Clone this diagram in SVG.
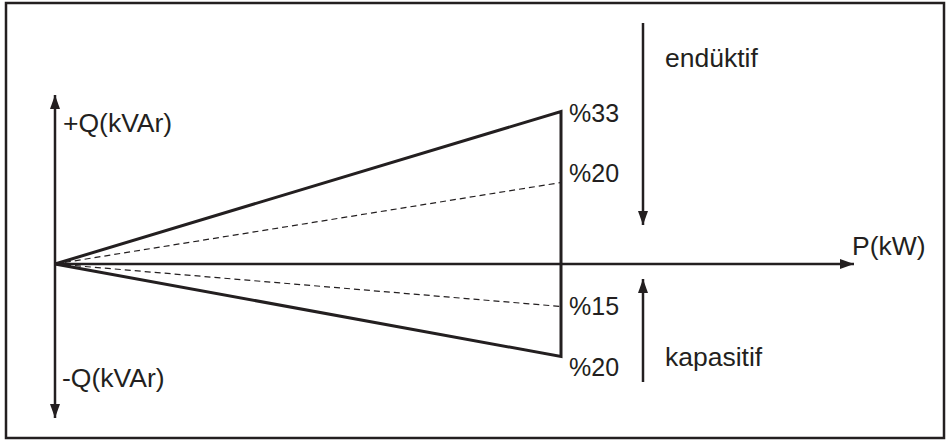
<svg xmlns="http://www.w3.org/2000/svg" width="949" height="441" viewBox="0 0 949 441">
<style>
  .t { font-family: "Liberation Sans", Arial, sans-serif; font-size: 25px; fill: #231f20; }
  .l { font-size: 26.5px; }
  .ax { stroke: #231f20; stroke-width: 2.5; fill: none; }
  .solid { stroke: #231f20; stroke-width: 3; fill: none; stroke-linejoin: miter; }
  .dash { stroke: #231f20; stroke-width: 1.2; fill: none; stroke-dasharray: 6 4; }
</style>
<defs>
  <marker id="ah" viewBox="0 0 14 10" refX="14" refY="5" markerWidth="14" markerHeight="10" markerUnits="userSpaceOnUse" orient="auto">
    <path d="M0,0 L14,5 L0,10 Z" fill="#231f20"/>
  </marker>
</defs>
<rect x="6" y="3" width="938" height="435" fill="#ffffff" stroke="#231f20" stroke-width="2.5"/>
<g id="connectors">
  <line class="ax" x1="55" y1="264" x2="55" y2="95" marker-end="url(#ah)"/>
  <line class="ax" x1="55" y1="264" x2="55" y2="418" marker-end="url(#ah)"/>
  <line class="ax" x1="55" y1="264" x2="854" y2="264" marker-end="url(#ah)"/>
  <polyline class="solid" points="55,264 561,111.5 561,356.5 55,264"/>
  <line class="dash" x1="55" y1="264" x2="561" y2="182.5"/>
  <line class="dash" x1="55" y1="264" x2="561" y2="306.5"/>
  <line class="ax" x1="643" y1="23" x2="643" y2="225" marker-end="url(#ah)"/>
  <line class="ax" x1="643" y1="382" x2="643" y2="279" marker-end="url(#ah)"/>
</g>
<g id="labels">
  <text class="t l" x="63" y="132">+Q(kVAr)</text>
  <text class="t l" x="62" y="387">-Q(kVAr)</text>
  <text class="t l" x="852" y="255">P(kW)</text>
  <text class="t" x="569" y="121.5">%33</text>
  <text class="t" x="569" y="182">%20</text>
  <text class="t" x="569" y="315">%15</text>
  <text class="t" x="569" y="376">%20</text>
  <text class="t l" x="665" y="67">endüktif</text>
  <text class="t l" x="665" y="366">kapasitif</text>
</g>
</svg>
